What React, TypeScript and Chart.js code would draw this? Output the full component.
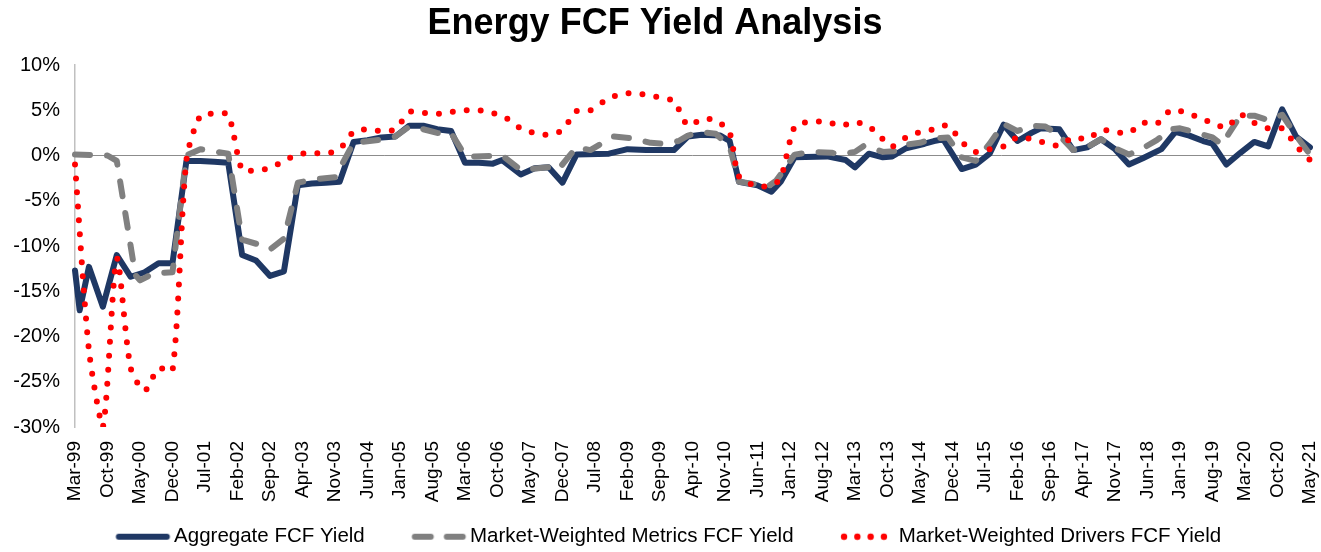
import React, { useEffect, useRef } from "react";
import { Chart, registerables } from "chart.js";

Chart.register(...registerables);

// ---- Category axis: monthly, Mar-99 .. May-21 ----
const MONTH_NAMES = ["Jan", "Feb", "Mar", "Apr", "May", "Jun", "Jul", "Aug", "Sep", "Oct", "Nov", "Dec"];
const FIRST_MONTH_INDEX = 2; // Mar
const FIRST_YEAR = 1999;
const MONTH_COUNT = 267;
const TICK_EVERY = 7;

const categories: string[] = [];
for (let i = 0; i < MONTH_COUNT; i++) {
  const total = FIRST_MONTH_INDEX + i;
  const yr = (FIRST_YEAR + Math.floor(total / 12)) % 100;
  categories.push(`${MONTH_NAMES[total % 12]}-${String(yr).padStart(2, "0")}`);
}

// ---- Series (FCF yield, %) ----
const aggregateFcfYield: [string, number][] = [
  ["Mar-99", -12.7], ["Apr-99", -17.1], ["Jun-99", -12.3], ["Sep-99", -16.7], ["Dec-99", -11.0],
  ["Mar-00", -13.4], ["Jun-00", -12.9], ["Sep-00", -11.9], ["Dec-00", -11.9], ["Mar-01", -0.6],
  ["Jun-01", -0.6], ["Sep-01", -0.7], ["Dec-01", -0.8], ["Mar-02", -11.0], ["Jun-02", -11.6],
  ["Sep-02", -13.3], ["Dec-02", -12.8], ["Mar-03", -3.3], ["Jun-03", -3.1], ["Sep-03", -3.0],
  ["Dec-03", -2.9], ["Mar-04", 1.5], ["Jun-04", 1.7], ["Sep-04", 2.0], ["Dec-04", 2.1],
  ["Mar-05", 3.3], ["Jun-05", 3.3], ["Sep-05", 2.9], ["Dec-05", 2.7], ["Mar-06", -0.8],
  ["Jun-06", -0.8], ["Sep-06", -0.9], ["Nov-06", -0.5], ["Mar-07", -2.1], ["Jun-07", -1.4],
  ["Sep-07", -1.3], ["Dec-07", -3.0], ["Mar-08", 0.1], ["Oct-08", 0.2], ["Feb-09", 0.7],
  ["Jun-09", 0.6], ["Dec-09", 0.6], ["Mar-10", 2.1], ["Jun-10", 2.3], ["Oct-10", 2.2],
  ["Dec-10", 1.6], ["Feb-11", -2.9], ["Jun-11", -3.3], ["Sep-11", -4.0], ["Nov-11", -2.9],
  ["Feb-12", -0.2], ["Sep-12", -0.1], ["Jan-13", -0.5], ["Mar-13", -1.3], ["Jun-13", 0.2],
  ["Sep-13", -0.2], ["Nov-13", -0.1], ["Feb-14", 0.8], ["Jun-14", 1.3], ["Aug-14", 1.6],
  ["Oct-14", 1.8], ["Feb-15", -1.5], ["May-15", -1.0], ["Aug-15", 0.2], ["Nov-15", 3.4],
  ["Feb-16", 1.6], ["May-16", 2.5], ["Jul-16", 3.0], ["Nov-16", 2.9], ["Feb-17", 0.6],
  ["May-17", 0.9], ["Aug-17", 1.8], ["Nov-17", 0.7], ["Feb-18", -1.0], ["May-18", -0.3],
  ["Sep-18", 0.7], ["Dec-18", 2.6], ["Mar-19", 2.2], ["Jun-19", 1.6], ["Aug-19", 1.3],
  ["Nov-19", -1.0], ["Feb-20", 0.3], ["May-20", 1.5], ["Aug-20", 1.0], ["Nov-20", 5.1],
  ["Feb-21", 2.1], ["May-21", 0.9],
];

const metricsFcfYield: [string, number][] = [
  ["Mar-99", 0.1], ["Oct-99", 0.0], ["Dec-99", -0.6], ["Apr-00", -13.2], ["May-00", -13.8],
  ["Aug-00", -13.0], ["Dec-00", -12.9], ["Mar-01", 0.0], ["Jun-01", 0.7], ["Dec-01", 0.2],
  ["Mar-02", -9.3], ["Jul-02", -9.9], ["Sep-02", -10.4], ["Dec-02", -9.2], ["Mar-03", -3.0],
  ["Jul-03", -2.6], ["Nov-03", -2.4], ["Mar-04", 1.4], ["Oct-04", 1.8], ["Dec-04", 2.1],
  ["Mar-05", 3.2], ["Jun-05", 2.9], ["Sep-05", 2.5], ["Dec-05", 2.5], ["Mar-06", 0.0],
  ["May-06", -0.1], ["Nov-06", 0.0], ["Mar-07", -1.6], ["Sep-07", -1.3], ["Nov-07", -1.6],
  ["Mar-08", 0.9], ["Jun-08", 0.6], ["Nov-08", 2.1], ["Mar-09", 1.9], ["Jul-09", 1.4],
  ["Oct-09", 1.3], ["Jan-10", 1.6], ["Mar-10", 2.2], ["Jun-10", 2.6], ["Sep-10", 2.4],
  ["Dec-10", 1.0], ["Feb-11", -2.9], ["Jun-11", -3.2], ["Aug-11", -3.5], ["Oct-11", -2.8],
  ["Feb-12", 0.1], ["Jun-12", 0.4], ["Oct-12", 0.3], ["Dec-12", 0.1], ["Mar-13", 0.4],
  ["May-13", 1.1], ["Sep-13", 0.4], ["Dec-13", 0.5], ["Feb-14", 1.2], ["May-14", 1.4],
  ["Aug-14", 1.9], ["Nov-14", 2.0], ["Feb-15", -0.2], ["May-15", -0.6], ["Aug-15", 1.3],
  ["Nov-15", 3.5], ["Feb-16", 2.7], ["May-16", 3.3], ["Aug-16", 3.2], ["Nov-16", 2.2],
  ["Feb-17", 0.6], ["May-17", 0.9], ["Aug-17", 1.8], ["Nov-17", 0.8], ["Feb-18", 0.1],
  ["May-18", 0.8], ["Aug-18", 1.7], ["Nov-18", 2.9], ["Jan-19", 3.0], ["Apr-19", 2.6],
  ["Aug-19", 2.0], ["Oct-19", 1.2], ["Feb-20", 4.4], ["May-20", 4.4], ["Aug-20", 3.9],
  ["Nov-20", 4.5], ["Feb-21", 2.2], ["May-21", 0.1],
];

const driversFcfYield: [string, number][] = [
  ["Mar-99", -1.0], ["Jun-99", -21.5], ["Sep-99", -30.0], ["Dec-99", -11.4], ["Mar-00", -23.5],
  ["Jun-00", -26.0], ["Sep-00", -23.5], ["Dec-00", -23.8], ["Mar-01", -0.5], ["Jun-01", 4.4],
  ["Sep-01", 4.6], ["Dec-01", 4.5], ["Mar-02", -1.6], ["Jun-02", -1.6], ["Sep-02", -1.4],
  ["Dec-02", -0.6], ["Mar-03", 0.1], ["Jun-03", 0.3], ["Sep-03", 0.2], ["Dec-03", 0.7],
  ["Mar-04", 2.6], ["Jun-04", 2.9], ["Sep-04", 2.7], ["Dec-04", 2.9], ["Mar-05", 4.8],
  ["Jun-05", 4.7], ["Sep-05", 4.6], ["Dec-05", 4.8], ["Mar-06", 5.0], ["Jun-06", 5.0],
  ["Sep-06", 4.7], ["Dec-06", 4.1], ["Mar-07", 3.0], ["Jun-07", 2.5], ["Sep-07", 2.3],
  ["Dec-07", 2.8], ["Mar-08", 4.9], ["Jun-08", 5.0], ["Sep-08", 6.0], ["Dec-08", 6.7],
  ["Mar-09", 6.9], ["Jun-09", 6.7], ["Sep-09", 6.4], ["Dec-09", 6.0], ["Mar-10", 3.3],
  ["Jun-10", 4.0], ["Sep-10", 3.9], ["Dec-10", 2.5], ["Feb-11", -2.3], ["Jun-11", -3.4],
  ["Sep-11", -3.3], ["Nov-11", -2.5], ["Feb-12", 3.2], ["May-12", 3.7], ["Sep-12", 3.7],
  ["Dec-12", 3.3], ["Mar-13", 3.7], ["Jun-13", 3.2], ["Sep-13", 1.8], ["Nov-13", 1.0],
  ["Feb-14", 2.0], ["May-14", 2.6], ["Aug-14", 2.9], ["Nov-14", 3.3], ["Feb-15", 1.5],
  ["May-15", 0.4], ["Aug-15", 0.7], ["Nov-15", 1.0], ["Feb-16", 2.0], ["May-16", 1.8],
  ["Aug-16", 1.4], ["Nov-16", 1.1], ["Feb-17", 2.0], ["May-17", 1.8], ["Aug-17", 2.8],
  ["Nov-17", 2.6], ["Feb-18", 2.5], ["May-18", 3.6], ["Aug-18", 3.5], ["Nov-18", 5.0],
  ["Feb-19", 4.8], ["May-19", 4.2], ["Aug-19", 3.6], ["Nov-19", 3.1], ["Feb-20", 4.5],
  ["May-20", 3.6], ["Aug-20", 3.0], ["Nov-20", 3.0], ["Jan-21", 1.8], ["Mar-21", 0.5],
  ["May-21", -0.5],
];

const Y_MIN = -30;
const Y_MAX = 10;
const Y_STEP = 5;

const TITLE = "Energy FCF Yield Analysis";
const SERIES_LABELS = [
  "Aggregate FCF Yield",
  "Market-Weighted Metrics FCF Yield",
  "Market-Weighted Drivers FCF Yield",
];
const SERIES_COLORS = ["#1f3864", "#808080", "#ff0000"];

const FONT = '"Liberation Sans", Arial, Helvetica, sans-serif';

const toPoints = (s: [string, number][]) => s.map(([x, y]) => ({ x, y }));

// Legend symbol images (line styles drawn like the chart's legend keys)
const SYMBOL_BOX = 75;
function makeSymbol(kind: "solid" | "dash" | "dot", color: string): HTMLCanvasElement {
  const c = document.createElement("canvas");
  c.width = 90;
  c.height = 10;
  const g = c.getContext("2d")!;
  g.strokeStyle = color;
  g.fillStyle = color;
  g.lineWidth = 6;
  g.lineCap = "round";
  const y = 5;
  if (kind === "solid") {
    g.beginPath();
    g.moveTo(37.5, y);
    g.lineTo(85.5, y);
    g.stroke();
  } else if (kind === "dash") {
    g.beginPath();
    g.moveTo(37.5, y);
    g.lineTo(53.5, y);
    g.moveTo(69.5, y);
    g.lineTo(85.5, y);
    g.stroke();
  } else {
    for (let i = 0; i < 4; i++) {
      g.beginPath();
      g.arc(38 + i * 13.3, y, 3.2, 0, Math.PI * 2);
      g.fill();
    }
  }
  return c;
}

export default function App() {
  const canvasRef = useRef<HTMLCanvasElement | null>(null);

  useEffect(() => {
    const canvas = canvasRef.current;
    if (!canvas) return;
    Chart.defaults.font.family = FONT;
    Chart.defaults.color = "#000";

    const symbols = [
      makeSymbol("solid", SERIES_COLORS[0]),
      makeSymbol("dash", SERIES_COLORS[1]),
      makeSymbol("dot", SERIES_COLORS[2]),
    ];

    const chart = new Chart(canvas, {
      type: "line",
      data: {
        labels: categories,
        datasets: [
          {
            label: SERIES_LABELS[0],
            data: toPoints(aggregateFcfYield) as any,
            borderColor: SERIES_COLORS[0],
            backgroundColor: SERIES_COLORS[0],
            borderWidth: 6,
            pointRadius: 0,
            tension: 0,
            borderJoinStyle: "round",
            borderCapStyle: "round",
            fill: false,
            order: 3,
          },
          {
            label: SERIES_LABELS[1],
            data: toPoints(metricsFcfYield) as any,
            borderColor: SERIES_COLORS[1],
            backgroundColor: SERIES_COLORS[1],
            borderWidth: 6,
            borderDash: [15, 17],
            pointRadius: 0,
            tension: 0,
            borderJoinStyle: "round",
            borderCapStyle: "round",
            fill: false,
            order: 2,
          },
          {
            label: SERIES_LABELS[2],
            data: toPoints(driversFcfYield) as any,
            borderColor: SERIES_COLORS[2],
            backgroundColor: SERIES_COLORS[2],
            borderWidth: 6,
            borderDash: [0, 14],
            pointRadius: 0,
            tension: 0.25,
            borderJoinStyle: "round",
            borderCapStyle: "round",
            fill: false,
            order: 1,
          },
        ],
      },
      options: {
        responsive: false,
        animation: false,
        devicePixelRatio: 1,
        events: [],
        layout: { padding: { left: 0, right: 11, top: 0, bottom: -5 } },
        plugins: {
          title: {
            display: true,
            text: TITLE,
            color: "#000",
            font: { size: 36, weight: "bold", family: FONT },
            padding: { top: 2, bottom: 19.8 },
          },
          legend: {
            display: true,
            position: "bottom",
            labels: {
              usePointStyle: true,
              pointStyleWidth: SYMBOL_BOX,
              padding: 20,
              color: "#000",
              font: { size: 20.5, family: FONT },
              sort: (a: any, b: any) => a.datasetIndex - b.datasetIndex,
              generateLabels: (ch: any) => {
                const items = (Chart.defaults.plugins.legend.labels as any).generateLabels(ch);
                return items.map((it: any) => ({ ...it, pointStyle: symbols[it.datasetIndex] }));
              },
            },
          },
          tooltip: { enabled: false },
        },
        scales: {
          x: {
            type: "category",
            offset: false,
            grid: { display: false, drawTicks: false },
            border: { display: false },
            ticks: {
              autoSkip: false,
              minRotation: 90,
              maxRotation: 90,
              padding: 14,
              color: "#000",
              font: { size: 19, family: FONT },
              callback: (_v: any, index: number) =>
                index % TICK_EVERY === 0 ? categories[index] : "",
            },
            afterFit: (scale: any) => {
              scale.height = 79.5;
              scale.paddingLeft = 0;
              scale.paddingRight = 0;
            },
          },
          y: {
            min: Y_MIN,
            max: Y_MAX,
            grid: {
              drawTicks: false,
              lineWidth: 1,
              color: (ctx: any) =>
                ctx.tick && ctx.tick.value === 0 ? "#8c8c8c" : "rgba(0,0,0,0)",
            },
            border: { display: true, color: "#c0c0c0", width: 1.5 },
            ticks: {
              stepSize: Y_STEP,
              padding: 15,
              color: "#000",
              font: { size: 20, family: FONT },
              callback: (v: any) => `${v}%`,
            },
            afterFit: (scale: any) => {
              scale.width = 75;
            },
          },
        },
      },
    });

    return () => {
      chart.destroy();
    };
  }, []);

  return (
    <div style={{ position: "absolute", left: 0, top: 0, width: 1321, height: 552, background: "#fff" }}>
      <canvas ref={canvasRef} width={1321} height={552} style={{ width: 1321, height: 552, display: "block" }} />
    </div>
  );
}
